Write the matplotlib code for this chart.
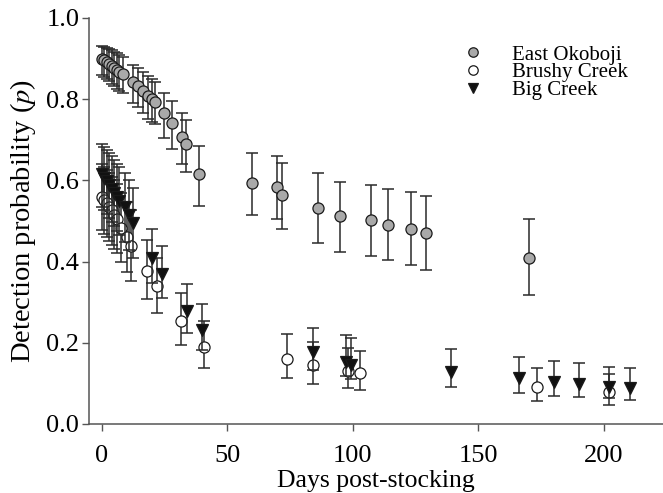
import matplotlib
matplotlib.use("Agg")
import matplotlib.pyplot as plt
from matplotlib.lines import Line2D
import numpy as np

# East Okoboji
eo_days = [0, 1, 2, 3, 4, 5, 6, 7, 8.5, 12.6, 14.6, 16.6, 18.6, 19.9, 21.2,
           24.9, 27.9, 32.1, 33.8, 38.9, 59.8, 69.9, 71.9, 86.3, 94.9, 107.1,
           113.9, 123.0, 129.1, 170.1]
eo_p = [0.900, 0.896, 0.892, 0.887, 0.882, 0.877, 0.872, 0.867, 0.862, 0.843,
        0.833, 0.821, 0.808, 0.800, 0.794, 0.765, 0.741, 0.708, 0.690, 0.615,
        0.594, 0.584, 0.564, 0.533, 0.512, 0.502, 0.491, 0.481, 0.470, 0.409]
eo_hi = [0.930, 0.928, 0.926, 0.923, 0.920, 0.917, 0.913, 0.909, 0.905, 0.884,
         0.877, 0.868, 0.858, 0.850, 0.843, 0.816, 0.796, 0.767, 0.750, 0.685,
         0.668, 0.661, 0.642, 0.617, 0.597, 0.589, 0.579, 0.571, 0.561, 0.506]
eo_lo = [0.860, 0.855, 0.850, 0.844, 0.838, 0.832, 0.826, 0.820, 0.815, 0.790,
         0.780, 0.767, 0.752, 0.745, 0.739, 0.704, 0.677, 0.640, 0.620, 0.537,
         0.515, 0.504, 0.481, 0.447, 0.424, 0.414, 0.403, 0.392, 0.380, 0.317]

# Brushy Creek
bc_days = [0, 1, 2, 3, 4, 5, 6, 7.8, 10, 11.9, 17.9, 21.9, 31.8, 40.9,
           74.0, 84.0, 98.2, 103.0, 173.2, 202.1]
bc_p = [0.560, 0.552, 0.544, 0.535, 0.526, 0.516, 0.505, 0.482, 0.460, 0.438,
        0.378, 0.340, 0.254, 0.190, 0.160, 0.145, 0.131, 0.125, 0.090, 0.078]
bc_hi = [0.640, 0.633, 0.625, 0.617, 0.609, 0.600, 0.590, 0.569, 0.548, 0.527,
         0.453, 0.410, 0.323, 0.254, 0.221, 0.203, 0.186, 0.181, 0.139, 0.122]
bc_lo = [0.477, 0.469, 0.460, 0.451, 0.442, 0.432, 0.421, 0.398, 0.375, 0.352,
         0.308, 0.274, 0.195, 0.139, 0.113, 0.099, 0.088, 0.084, 0.057, 0.048]

# Big Creek
bg_days = [0, 1, 2, 3, 4, 5, 6, 7, 9.2, 11.1, 12.5, 19.9, 23.9, 34.1, 40.0,
           84.0, 97.3, 99.3, 139.1, 166.1, 180.1, 190.1, 202.1, 210.3]
bg_p = [0.615, 0.607, 0.598, 0.589, 0.580, 0.570, 0.560, 0.550, 0.535, 0.515,
        0.496, 0.410, 0.369, 0.279, 0.232, 0.177, 0.152, 0.146, 0.129, 0.113,
        0.103, 0.099, 0.092, 0.089]
bg_hi = [0.690, 0.683, 0.675, 0.667, 0.659, 0.650, 0.641, 0.632, 0.618, 0.600,
         0.582, 0.480, 0.438, 0.345, 0.295, 0.237, 0.219, 0.213, 0.185, 0.164,
         0.156, 0.151, 0.141, 0.137]
bg_lo = [0.535, 0.526, 0.517, 0.507, 0.497, 0.487, 0.476, 0.465, 0.449, 0.428,
         0.408, 0.348, 0.310, 0.225, 0.182, 0.134, 0.117, 0.110, 0.092, 0.077,
         0.070, 0.067, 0.063, 0.059]

labels = ["East Okoboji", "Brushy Creek", "Big Creek"]
x_ticks = [0, 50, 100, 150, 200]
y_ticks = [0.0, 0.2, 0.4, 0.6, 0.8, 1.0]

plt.rcParams['font.family'] = ['Liberation Serif', 'DejaVu Serif']
plt.rcParams['mathtext.fontset'] = 'stix'

W, H = 663, 493
fig = plt.figure(figsize=(W / 100, H / 100), dpi=100)
ax = fig.add_axes([89 / W, 1 - 424 / H, (663 - 89) / W, (424 - 18) / H])

ecol = '#2a2a2a'
ms = 8.0
cap = 4.5


def draw(days, p, lo, hi, marker, face, z):
    p = np.asarray(p)
    yerr = [p - np.asarray(lo), np.asarray(hi) - p]
    ax.errorbar(days, p, yerr=yerr, fmt='none', ecolor=ecol, elinewidth=1.1,
                capsize=cap, capthick=1.1, zorder=z)
    ax.plot(days, p, linestyle='none', marker=marker, markersize=ms,
            markerfacecolor=face, markeredgecolor='#1a1a1a', markeredgewidth=0.9,
            zorder=z + 0.5)


draw(eo_days, eo_p, eo_lo, eo_hi, 'o', '#a9a9a9', 2)
draw(bc_days, bc_p, bc_lo, bc_hi, 'o', 'white', 3)
draw(bg_days, bg_p, bg_lo, bg_hi, 'v', '#111111', 4)

ax.set_xlim(-5, 223.5)
ax.set_ylim(0, 1.0)
ax.set_xticks(x_ticks)
ax.set_yticks(y_ticks)
ax.set_yticklabels([f"{v:.1f}" for v in y_ticks])
ax.spines['top'].set_visible(False)
ax.spines['right'].set_visible(False)
for s in ['left', 'bottom']:
    ax.spines[s].set_color('#555555')
    ax.spines[s].set_linewidth(1.1)
ax.tick_params(direction='out', length=5, width=1.0, color='#555555',
               labelsize=19)
ax.tick_params(axis='x', pad=10)
ax.tick_params(axis='y', pad=2)
ax.set_xlabel("Days post-stocking", fontsize=18.5, labelpad=2)
ax.set_ylabel("Detection probability ($p$)", fontsize=20.5, labelpad=6)

handles = [
    Line2D([], [], linestyle='none', marker='o', markersize=6.8,
           markerfacecolor='#a9a9a9', markeredgecolor='#1a1a1a', markeredgewidth=0.9),
    Line2D([], [], linestyle='none', marker='o', markersize=6.8,
           markerfacecolor='white', markeredgecolor='#1a1a1a', markeredgewidth=0.9),
    Line2D([], [], linestyle='none', marker='v', markersize=6.8,
           markerfacecolor='#111111', markeredgecolor='#1a1a1a', markeredgewidth=0.9),
]
fig.legend(handles, labels, loc='upper left', bbox_to_anchor=(462.6 / W, 1 - 45 / H),
           frameon=False, fontsize=15, handlelength=1.0, handletextpad=1.375,
           labelspacing=-0.08, borderaxespad=0, borderpad=0)

fig.savefig("out.png", dpi=100)
